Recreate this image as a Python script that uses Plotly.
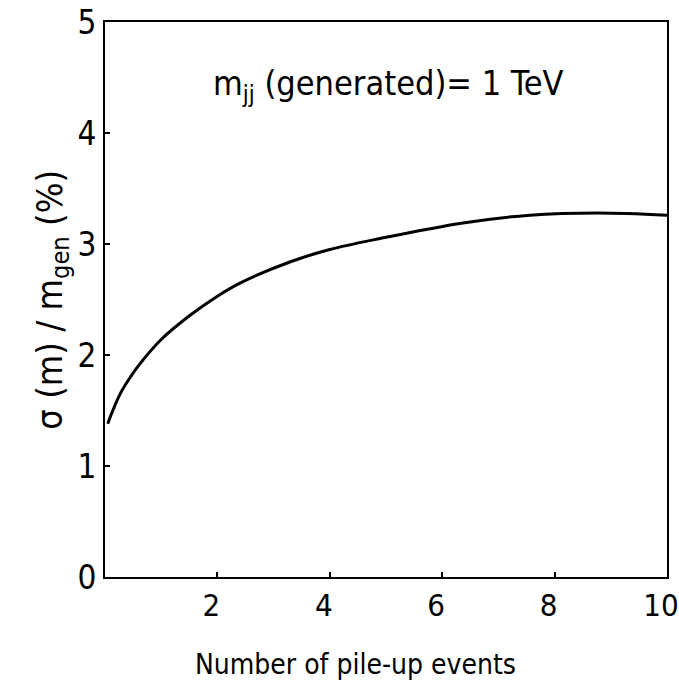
import plotly.graph_objects as go

pileup = [0.05, 0.1, 0.27, 0.45, 0.62, 1.0, 1.52, 2.0, 2.41, 3.3, 4.0, 4.9, 6.37, 7.56, 8.77, 10.0]
resolution = [1.38, 1.45, 1.65, 1.8, 1.92, 2.14, 2.36, 2.53, 2.65, 2.84, 2.95, 3.05, 3.19, 3.26, 3.28, 3.26]
x_ticks = [2, 4, 6, 8, 10]
y_ticks = [0, 1, 2, 3, 4, 5]

fig = go.Figure()
fig.add_trace(go.Scatter(x=pileup, y=resolution, mode="lines",
                         line=dict(color="black", width=3, shape="spline"),
                         showlegend=False))

font = "DejaVu Sans Condensed, DejaVu Sans"
axis_common = dict(ticks="inside", ticklen=5, tickwidth=2, tickcolor="black",
                   showline=True, linecolor="black", linewidth=2, mirror=True,
                   showgrid=False, zeroline=False, automargin=False,
                   ticklabeloverflow="allow")
fig.update_layout(
    width=679, height=688,
    margin=dict(l=105, r=12, t=22, b=111),
    plot_bgcolor="white", paper_bgcolor="white",
    font=dict(family=font, color="black"),
    xaxis=dict(range=[0, 10], tickvals=x_ticks, ticklabelshift=-6,
               tickfont=dict(size=31, family=font, color="black"), **axis_common),
    yaxis=dict(range=[0, 5], tickvals=y_ticks,
               tickfont=dict(size=33, family=font, color="black"), **axis_common),
)
fig.add_annotation(x=-0.094, y=0.5, xref="paper", yref="paper", xanchor="center",
                   yanchor="middle", textangle=-90,
                   text="σ (m) / m<sub>gen</sub> (%)", showarrow=False,
                   font=dict(size=36, family=font, color="black"))
fig.add_annotation(x=0.445, y=-0.158, xref="paper", yref="paper", yanchor="middle",
                   text="Number of pile-up events", showarrow=False,
                   font=dict(size=28, family=font, color="black"))
fig.add_annotation(x=5.05, y=4.43, xref="x", yref="y",
                   text="m<sub>jj</sub> (generated)= 1 TeV", showarrow=False,
                   font=dict(size=34, family=font, color="black"))
fig.write_html("out.html", config={"displayModeBar": False},
               post_script="document.body.style.margin='0';"
                           "document.documentElement.style.overflow='hidden';"
                           "document.body.style.overflow='hidden';")
